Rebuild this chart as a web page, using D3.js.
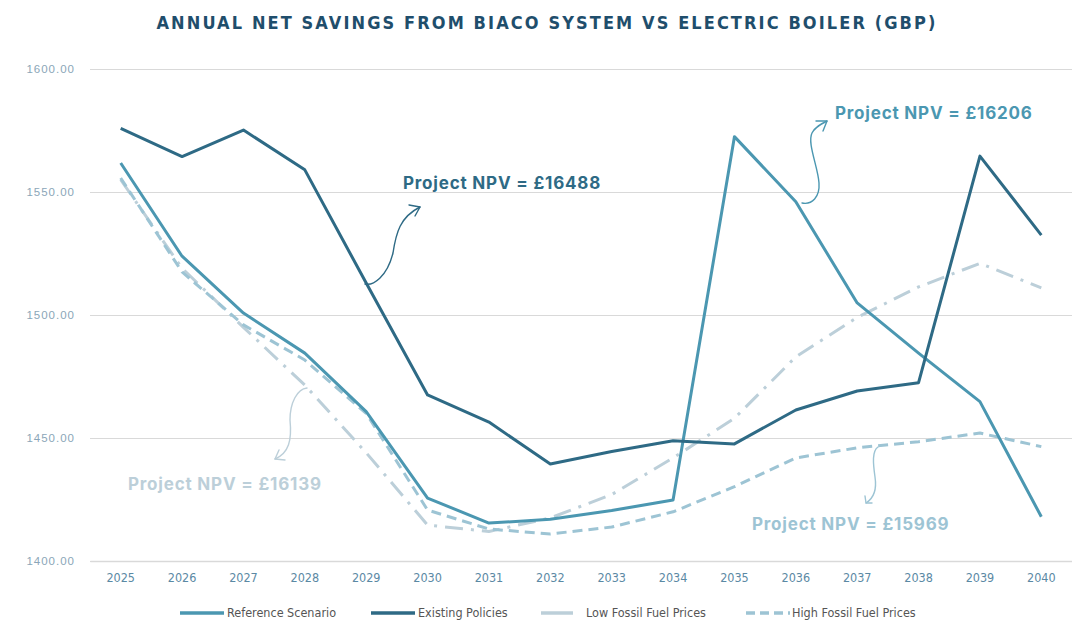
<!DOCTYPE html>
<html>
<head>
<meta charset="utf-8">
<script src="https://cdn.jsdelivr.net/npm/d3@7"></script>
<style>
    body { margin: 0; background: #fff; }
    svg { display: block; }
</style>
</head>
<body>
<svg id="chart" width="1072" height="626"></svg>
<script>
var years = ["2025", "2026", "2027", "2028", "2029", "2030", "2031", "2032",
    "2033", "2034", "2035", "2036", "2037", "2038", "2039", "2040"];
var referenceScenario = [1561.8, 1523.9, 1500.8, 1484.5, 1460.7, 1425.6, 1415.4, 1417.0,
    1420.5, 1424.8, 1572.5, 1546.0, 1504.9, 1484.5, 1464.8, 1418.0];
var existingPolicies = [1575.9, 1564.4, 1575.2, 1559.0, 1513.0, 1467.5, 1456.5, 1439.4,
    1444.5, 1448.9, 1447.6, 1461.4, 1469.1, 1472.5, 1564.6, 1532.5];
var lowFossil = [1555.0, 1519.0, 1495.0, 1471.5, 1444.0, 1414.6, 1412.0, 1417.5,
    1427.0, 1441.9, 1458.0, 1483.0, 1499.0, 1511.4, 1521.0, 1511.0];
var highFossil = [1555.7, 1517.5, 1496.0, 1481.7, 1460.0, 1420.7, 1413.0, 1411.0,
    1413.8, 1420.0, 1430.2, 1441.9, 1446.0, 1448.5, 1452.0, 1446.5];
var yTicks = [1400, 1450, 1500, 1550, 1600];
var seriesNames = ["Reference Scenario", "Existing Policies", "Low Fossil Fuel Prices", "High Fossil Fuel Prices"];
var npvLabels = ["Project NPV = £16206", "Project NPV = £16488", "Project NPV = £16139", "Project NPV = £15969"];

var colors = ["#4b97b1", "#2e6a85", "#bccfd9", "#9dc4d4"];
var dashes = [null, null, "18,8,3,8", "10,6"];

var svg = d3.select("#chart");
var margin = {left: 90, right: 0, top: 69, bottom: 65};
var width = 1072 - margin.left - margin.right;
var height = 626 - margin.top - margin.bottom;

var x = d3.scaleBand().domain(years).range([margin.left, margin.left + width]);
var y = d3.scaleLinear().domain([1400, 1600]).range([margin.top + height, margin.top]);

// title
svg.append("text")
    .attr("x", 547).attr("y", 29)
    .attr("text-anchor", "middle")
    .style("font-family", "'DejaVu Sans Condensed', 'DejaVu Sans'")
    .style("font-stretch", "condensed")
    .style("font-weight", "bold")
    .style("font-size", "18px")
    .style("letter-spacing", "2.1px")
    .style("fill", "#1f4e6c")
    .text("ANNUAL NET SAVINGS FROM BIACO SYSTEM VS ELECTRIC BOILER (GBP)");

// gridlines + y labels
var yAxis = svg.append("g")
    .attr("transform", "translate(" + margin.left + ",0)")
    .call(d3.axisLeft(y).tickValues(yTicks).tickSize(-width).tickPadding(15)
        .tickFormat(d3.format(".2f")));
yAxis.select(".domain").remove();
yAxis.selectAll("line").attr("stroke", "#d9d9d9").attr("stroke-width", 1.2);
yAxis.selectAll("text")
    .style("font-family", "'Liberation Sans'")
    .style("font-size", "11.5px")
    .style("letter-spacing", "1px")
    .style("fill", "#8ba6b8");

var xAxis = svg.append("g")
    .attr("transform", "translate(0," + (margin.top + height) + ")")
    .call(d3.axisBottom(x).tickSize(0).tickPadding(12));
xAxis.select(".domain").attr("stroke", "#d9d9d9").attr("stroke-width", 1.5);
xAxis.selectAll("text")
    .style("font-family", "'DejaVu Sans Condensed', 'DejaVu Sans'")
    .style("font-stretch", "condensed")
    .style("font-size", "12.5px")
    .style("fill", "#5b89a4");

var line = d3.line()
    .x(function(d, i) { return x(years[i]) + x.bandwidth() / 2; })
    .y(function(d) { return y(d); });

var allSeries = [referenceScenario, existingPolicies, lowFossil, highFossil];
var drawOrder = [2, 3, 0, 1];
drawOrder.forEach(function(k) {
    svg.append("path")
        .datum(allSeries[k])
        .attr("d", line)
        .attr("fill", "none")
        .attr("stroke", colors[k])
        .attr("stroke-width", 3)
        .attr("stroke-linejoin", "round")
        .attr("stroke-dasharray", dashes[k]);
});

// annotations
var notes = [
    {text: npvLabels[0], color: colors[0], tx: 835, ty: 119,
        path: "M802,203 C812,205 820,197 819,183 C818,167 807,143 812,133 C815,127 821,124 827,121",
        head: "M816,121 L827,121 L823,131"},
    {text: npvLabels[1], color: colors[1], tx: 403, ty: 189,
        path: "M365,284 C373,286 387,277 393,253 C396,233 400,217 420,207",
        head: "M409,205 L420,207 L415,216"},
    {text: npvLabels[2], color: colors[2], tx: 128, ty: 490,
        path: "M307,388 C297,389 290,403 290,420 C292,440 289,453 275,459",
        head: "M279,450 L275,459 L285,460"},
    {text: npvLabels[3], color: colors[3], tx: 752, ty: 530,
        path: "M878,447 C872,451 873,463 875,477 C877,490 874,498 866,503",
        head: "M865,496 L866,503 L872,503"}
];
notes.forEach(function(n) {
    svg.append("text")
        .attr("x", n.tx).attr("y", n.ty)
        .style("font-family", "Inter, 'DejaVu Sans'")
        .style("font-weight", "bold")
        .style("font-size", "17px")
        .style("letter-spacing", "0.8px")
        .style("fill", n.color)
        .text(n.text);
    svg.append("path").attr("d", n.path)
        .attr("fill", "none").attr("stroke", n.color).attr("stroke-width", 1.4)
        .attr("stroke-linecap", "round");
    svg.append("path").attr("d", n.head)
        .attr("fill", "none").attr("stroke", n.color).attr("stroke-width", 1.4)
        .attr("stroke-linecap", "round").attr("stroke-linejoin", "round");
});

// legend
var legendPos = [{lx: 180, tx: 227}, {lx: 371, tx: 418}, {lx: 541, tx: 586}, {lx: 746, tx: 792}];
var legend = svg.append("g").attr("transform", "translate(0,613)");
seriesNames.forEach(function(name, k) {
    var len = k == 2 ? 32 : 44;
    legend.append("line")
        .attr("x1", legendPos[k].lx).attr("x2", legendPos[k].lx + len)
        .attr("y1", 0).attr("y2", 0)
        .attr("stroke", colors[k]).attr("stroke-width", 3.5)
        .attr("stroke-dasharray", k == 3 ? "9,5" : null);
    legend.append("text")
        .attr("x", legendPos[k].tx).attr("y", 4)
        .style("font-family", "'DejaVu Sans Condensed', 'DejaVu Sans'")
        .style("font-stretch", "condensed")
        .style("font-size", "12.5px")
        .style("fill", "#555")
        .text(name);
});
</script>
</body>
</html>
